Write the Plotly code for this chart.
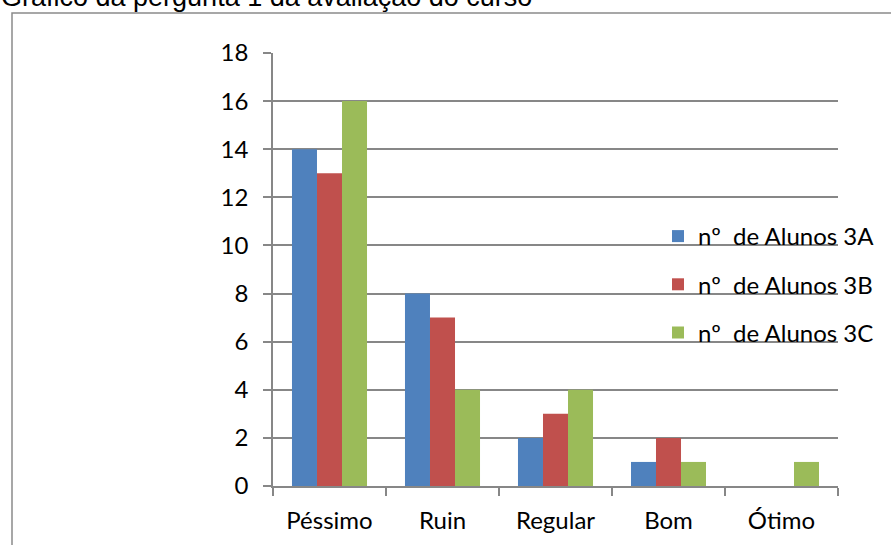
import plotly.graph_objects as go

# Survey answers: question 1 of the course evaluation
categorias = ["Péssimo", "Ruin", "Regular", "Bom", "Ótimo"]
alunos_3a = [14, 8, 2, 1, 0]
alunos_3b = [13, 7, 3, 2, 0]
alunos_3c = [16, 4, 4, 1, 1]
series_nomes = ["nº  de Alunos 3A", "nº  de Alunos 3B", "nº  de Alunos 3C"]
cores = ["#4F81BD", "#C0504D", "#9BBB59"]
titulo = "Gráfico da pergunta 1 da avaliação do curso"

W, H = 891, 545
L, R, T, B = 273, 53, 53, 59
PW, PH = W - L - R, H - T - B


def px_x(px):
    return (px - L) / PW


def px_y(py):
    return (H - B - py) / PH


fig = go.Figure()
for nome, valores, cor in zip(series_nomes, [alunos_3a, alunos_3b, alunos_3c], cores):
    fig.add_trace(go.Bar(
        x=categorias, y=valores, name=nome, legendgroup=nome,
        marker=dict(color=cor, line=dict(width=0)),
    ))

grid = "#878787"
fonte = "Lato"
tam = 24

fig.update_layout(
    width=W, height=H,
    margin=dict(l=L, r=R, t=T, b=B, autoexpand=False),
    paper_bgcolor="white", plot_bgcolor="white",
    barmode="group", bargap=0.336, bargroupgap=0,
    font=dict(family=fonte, size=tam, color="black"),
    showlegend=True,
    legend=dict(
        x=px_x(658), y=px_y(214), xanchor="left", yanchor="top",
        bgcolor="rgba(0,0,0,0)", borderwidth=0,
        tracegroupgap=14, itemwidth=30,
        font=dict(family=fonte, size=tam, color="black"),
    ),
    xaxis=dict(
        showgrid=False, showline=True, linecolor=grid, linewidth=1.5,
        ticks="outside", tickson="boundaries", ticklen=8, tickcolor=grid, tickwidth=1.5,
        ticklabelstandoff=12,
        tickfont=dict(family=fonte, size=tam, color="black"),
    ),
    yaxis=dict(
        range=[0, 18], dtick=2, showgrid=True, gridcolor=grid, gridwidth=1.5,
        zeroline=False, showline=True, linecolor=grid, linewidth=1.5,
        ticks="outside", ticklen=8, tickcolor=grid, tickwidth=1.5,
        ticklabelstandoff=10,
        tickfont=dict(family=fonte, size=tam, color="black"),
    ),
    shapes=[dict(
        type="rect", xref="paper", yref="paper",
        x0=px_x(12), x1=px_x(905), y0=px_y(13), y1=px_y(560),
        line=dict(color="#8a8a8a", width=1.5), fillcolor="rgba(0,0,0,0)", layer="below",
    )],
    annotations=[dict(
        text=titulo, xref="paper", yref="paper",
        x=px_x(0), y=px_y(13), xanchor="left", yanchor="bottom",
        showarrow=False, borderpad=0,
        font=dict(family="Liberation Sans", size=27, color="black"),
    )],
)

fig.write_html("out.html")
